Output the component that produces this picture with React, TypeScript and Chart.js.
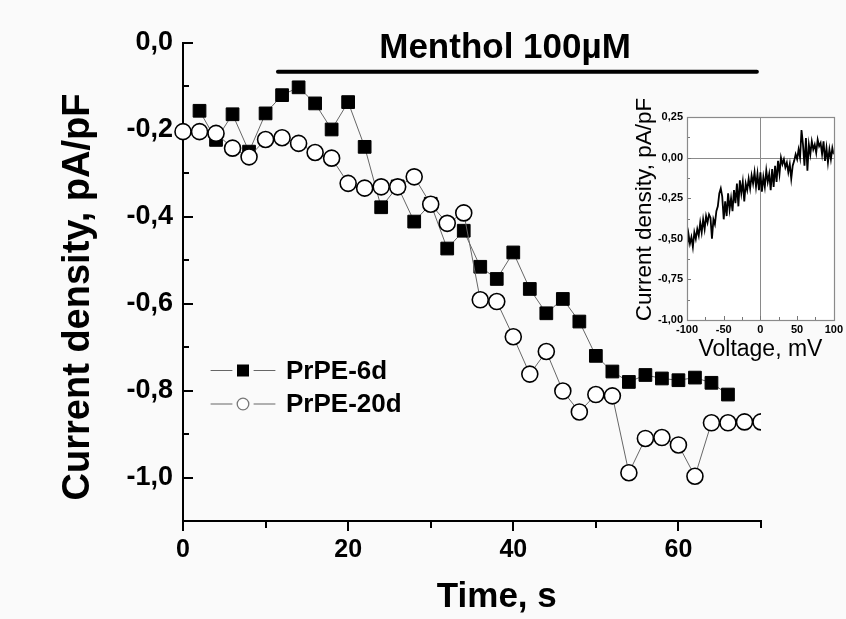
import React, { useEffect, useRef } from 'react';
import { Chart, registerables } from 'chart.js';

Chart.register(...registerables);

// ---------- main chart data ----------
const prpe6dTime = [2, 4, 6, 8, 10, 12, 14, 16, 18, 20, 22, 24, 26, 28, 30, 32, 34, 36, 38, 40, 42, 44, 46, 48, 50, 52, 54, 56, 58, 60, 62, 64, 66];
const prpe6dValues = [-0.156, -0.223, -0.164, -0.25, -0.162, -0.12, -0.102, -0.139, -0.199, -0.136, -0.239, -0.378, -0.33, -0.411, -0.37, -0.473, -0.432, -0.515, -0.543, -0.482, -0.566, -0.622, -0.589, -0.641, -0.72, -0.756, -0.78, -0.764, -0.772, -0.776, -0.77, -0.782, -0.809];

const prpe20dTime = [0, 2, 4, 6, 8, 10, 12, 14, 16, 18, 20, 22, 24, 26, 28, 30, 32, 34, 36, 38, 40, 42, 44, 46, 48, 50, 52, 54, 56, 58, 60, 62, 64, 66, 68, 70];
const prpe20dValues = [-0.204, -0.204, -0.208, -0.242, -0.262, -0.222, -0.218, -0.231, -0.252, -0.265, -0.323, -0.334, -0.331, -0.331, -0.308, -0.371, -0.415, -0.391, -0.591, -0.595, -0.676, -0.762, -0.71, -0.801, -0.849, -0.809, -0.812, -0.989, -0.91, -0.908, -0.925, -0.997, -0.874, -0.874, -0.872, -0.872];

const seriesLabels = ['PrPE-6d', 'PrPE-20d'];
const xTickValues = [0, 20, 40, 60];
const xTickMarks = [0, 10, 20, 30, 40, 50, 60, 70];
const yTickValues = [0, -0.2, -0.4, -0.6, -0.8, -1.0];
const yTickMarks = [0, -0.1, -0.2, -0.3, -0.4, -0.5, -0.6, -0.7, -0.8, -0.9, -1.0];
const xTitle = 'Time, s';
const yTitle = 'Current density, pA/pF';
const mentholText = 'Menthol 100µM';
const mentholStart = 11.5;
const mentholEnd = 69.5;
const mentholLevel = -0.066;

// ---------- inset data ----------
const insetVoltage = [
  -100, -98, -96, -94, -92, -90, -88, -86, -84, -82, -80, -78, -76, -74, -72, -70, -68, -66, -64, -62,
  -60, -58, -56, -54, -52, -50, -48, -46, -44, -42, -40, -38, -36, -34, -32, -30, -28, -26, -24, -22,
  -20, -18, -16, -14, -12, -10, -8, -6, -4, -2, 0, 2, 4, 6, 8, 10, 12, 14, 16, 18,
  20, 22, 24, 26, 28, 30, 32, 34, 36, 38, 40, 42, 44, 46, 48, 50, 52, 54, 56, 58,
  60, 62, 64, 66, 68, 70, 72, 74, 76, 78, 80, 82, 84, 86, 88, 90, 92, 94, 96, 98, 100,
];
const insetCurrent = [
  -0.56, -0.47, -0.53, -0.49, -0.55, -0.46, -0.5, -0.44, -0.48, -0.4, -0.46, -0.38, -0.44, -0.36, -0.4, -0.35, -0.37, -0.5, -0.38, -0.41,
  -0.33, -0.3, -0.22, -0.19, -0.24, -0.38, -0.27, -0.36, -0.22, -0.32, -0.25, -0.33, -0.2, -0.28, -0.16, -0.3, -0.14, -0.22, -0.15, -0.27,
  -0.16, -0.2, -0.13, -0.19, -0.11, -0.16, -0.09, -0.18, -0.1, -0.2, -0.09, -0.21, -0.12, -0.18, -0.08, -0.15, -0.1, -0.2, -0.07, -0.18,
  -0.05, -0.15, -0.02, -0.1, 0.0, -0.04, -0.01, -0.06, -0.03, -0.09, -0.04, -0.13, -0.05, -0.02, 0.02, -0.01, 0.05, 0.0, 0.17, 0.08,
  -0.05, 0.12, -0.08, 0.08, 0.02, 0.1, 0.05, 0.08, 0.03, 0.11, 0.07, 0.09, 0.02, 0.1, -0.02, 0.06, -0.03, 0.05, -0.01, 0.06, 0.02,
];
const insetXTicks = [-100, -50, 0, 50, 100];
const insetYTicks = [0.25, 0, -0.25, -0.5, -0.75, -1.0];
const insetXTickMarks = [-100, -75, -50, -25, 0, 25, 50, 75, 100];
const insetYTickMarks = [0.25, 0.125, 0, -0.125, -0.25, -0.375, -0.5, -0.625, -0.75, -0.875, -1.0];
const insetXTitle = 'Voltage, mV';
const insetYTitle = 'Current density, pA/pF';

const FONT = '"Liberation Sans", Arial, Helvetica, sans-serif';

const mainPlugin = {
  id: 'mainDecor',
  beforeDatasetsDraw(chart: any) {
    const { ctx, chartArea, scales } = chart;
    const x = scales.x;
    const y = scales.y;
    ctx.save();
    ctx.strokeStyle = '#000';
    ctx.lineWidth = 2;
    for (const v of yTickMarks) {
      const py = Math.round(y.getPixelForValue(v));
      const len = yTickValues.some((t) => Math.abs(t - v) < 1e-9) ? 10 : 6;
      ctx.beginPath();
      ctx.moveTo(chartArea.left, py);
      ctx.lineTo(chartArea.left + len, py);
      ctx.stroke();
    }
    for (const v of xTickMarks) {
      const px = Math.round(x.getPixelForValue(v));
      const len = xTickValues.includes(v) ? 10 : 7;
      ctx.beginPath();
      ctx.moveTo(px, chartArea.bottom);
      ctx.lineTo(px, chartArea.bottom + len);
      ctx.stroke();
    }
    ctx.restore();
  },
  afterDraw(chart: any) {
    const { ctx, chartArea, scales } = chart;
    const x = scales.x;
    const y = scales.y;
    ctx.save();
    // menthol bar
    ctx.strokeStyle = '#000';
    ctx.lineWidth = 4;
    ctx.lineCap = 'round';
    const my = y.getPixelForValue(mentholLevel);
    ctx.beginPath();
    ctx.moveTo(x.getPixelForValue(mentholStart), my);
    ctx.lineTo(x.getPixelForValue(mentholEnd), my);
    ctx.stroke();
    ctx.fillStyle = '#000';
    ctx.font = `bold 35px ${FONT}`;
    ctx.textAlign = 'center';
    ctx.textBaseline = 'alphabetic';
    ctx.fillText(mentholText, x.getPixelForValue(39), my - 14);

    // axis titles
    ctx.font = `bold 35px ${FONT}`;
    ctx.textBaseline = 'middle';
    ctx.fillText(xTitle, x.getPixelForValue(38), chartArea.bottom + 76);
    ctx.save();
    ctx.translate(chartArea.left - 104, (chartArea.top + chartArea.bottom) / 2 + 15);
    ctx.rotate(-Math.PI / 2);
    ctx.font = `bold 38px ${FONT}`;
    ctx.fillText(yTitle, 0, 0);
    ctx.restore();

    // legend
    const ds = chart.data.datasets;
    const rows = [370.5, 404];
    const lx = chartArea.left + 28;
    rows.forEach((ry, i) => {
      ctx.strokeStyle = '#666';
      ctx.lineWidth = 1;
      ctx.beginPath();
      ctx.moveTo(lx, ry);
      ctx.lineTo(lx + 21, ry);
      ctx.moveTo(lx + 43, ry);
      ctx.lineTo(lx + 64, ry);
      ctx.stroke();
      const cx = lx + 32;
      if (ds[i].pointStyle === 'rect') {
        ctx.fillStyle = '#000';
        ctx.fillRect(cx - 6, ry - 6, 12, 12);
      } else {
        ctx.fillStyle = '#fff';
        ctx.strokeStyle = '#777';
        ctx.lineWidth = 1.3;
        ctx.beginPath();
        ctx.arc(cx, ry, 5.8, 0, Math.PI * 2);
        ctx.fill();
        ctx.stroke();
      }
      ctx.fillStyle = '#000';
      ctx.font = `bold 26px ${FONT}`;
      ctx.textAlign = 'left';
      ctx.textBaseline = 'middle';
      ctx.fillText(ds[i].label, lx + 75, ry + 1);
    });
    ctx.restore();
  },
};

const insetPlugin = {
  id: 'insetDecor',
  beforeDatasetsDraw(chart: any) {
    const { ctx, chartArea, scales } = chart;
    const x = scales.x;
    const y = scales.y;
    ctx.save();
    ctx.fillStyle = '#ffffff';
    ctx.fillRect(chartArea.left, chartArea.top, chartArea.right - chartArea.left, chartArea.bottom - chartArea.top);
    ctx.strokeStyle = '#8a8a8a';
    ctx.lineWidth = 1;
    // zero lines
    const zx = Math.round(x.getPixelForValue(0)) + 0.5;
    const zy = Math.round(y.getPixelForValue(0)) + 0.5;
    ctx.beginPath();
    ctx.moveTo(zx, chartArea.top);
    ctx.lineTo(zx, chartArea.bottom);
    ctx.moveTo(chartArea.left, zy);
    ctx.lineTo(chartArea.right, zy);
    ctx.stroke();
    // ticks inward
    ctx.strokeStyle = '#777';
    for (const v of insetYTickMarks) {
      const py = Math.round(y.getPixelForValue(v)) + 0.5;
      const len = insetYTicks.some((t) => Math.abs(t - v) < 1e-9) ? 4 : 3;
      ctx.beginPath();
      ctx.moveTo(chartArea.left, py);
      ctx.lineTo(chartArea.left + len, py);
      ctx.stroke();
    }
    for (const v of insetXTickMarks) {
      const px = Math.round(x.getPixelForValue(v)) + 0.5;
      const len = insetXTicks.includes(v) ? 4 : 3;
      ctx.beginPath();
      ctx.moveTo(px, chartArea.bottom);
      ctx.lineTo(px, chartArea.bottom - len);
      ctx.stroke();
    }
    ctx.restore();
  },
  afterDraw(chart: any) {
    const { ctx, chartArea } = chart;
    ctx.save();
    ctx.strokeStyle = '#8a8a8a';
    ctx.lineWidth = 1.2;
    ctx.strokeRect(Math.round(chartArea.left) + 0.5, Math.round(chartArea.top) + 0.5, Math.round(chartArea.right - chartArea.left), Math.round(chartArea.bottom - chartArea.top));
    ctx.fillStyle = '#000';
    ctx.textAlign = 'center';
    ctx.textBaseline = 'middle';
    ctx.font = `23px ${FONT}`;
    ctx.fillText(insetXTitle, (chartArea.left + chartArea.right) / 2, chartArea.bottom + 30);
    ctx.save();
    ctx.translate(chartArea.left - 42, (chartArea.top + chartArea.bottom) / 2 - 9);
    ctx.rotate(-Math.PI / 2);
    ctx.font = `22.5px ${FONT}`;
    ctx.fillText(insetYTitle, 0, 0);
    ctx.restore();
    ctx.restore();
  },
};

export default function App() {
  const mainRef = useRef<HTMLCanvasElement | null>(null);
  const insetRef = useRef<HTMLCanvasElement | null>(null);

  useEffect(() => {
    if (!mainRef.current || !insetRef.current) return;
    const clipRight = { left: false, top: false, bottom: false, right: 0 } as any;
    const main = new Chart(mainRef.current, {
      type: 'line',
      data: {
        datasets: [
          {
            label: seriesLabels[0],
            data: prpe6dTime.map((t, i) => ({ x: t, y: prpe6dValues[i] })),
            borderColor: '#666',
            borderWidth: 1,
            pointStyle: 'rect',
            pointRadius: 9,
            pointBackgroundColor: '#000',
            pointBorderColor: '#000',
            pointBorderWidth: 1,
            order: 2,
            clip: clipRight,
          },
          {
            label: seriesLabels[1],
            data: prpe20dTime.map((t, i) => ({ x: t, y: prpe20dValues[i] })),
            borderColor: '#666',
            borderWidth: 1,
            pointStyle: 'circle',
            pointRadius: 8,
            pointBackgroundColor: '#fff',
            pointBorderColor: '#000',
            pointBorderWidth: 1.6,
            order: 1,
            clip: clipRight,
          },
        ],
      } as any,
      options: {
        responsive: false,
        animation: false,
        devicePixelRatio: 1,
        layout: { padding: { left: 0, top: 43, right: 85, bottom: 0 } },
        plugins: { legend: { display: false }, tooltip: { enabled: false } },
        events: [],
        scales: {
          x: {
            type: 'linear',
            min: 0,
            max: 70,
            afterBuildTicks: (s: any) => {
              s.ticks = xTickValues.map((v) => ({ value: v }));
            },
            afterFit: (s: any) => {
              s.height = 98;
            },
            grid: { display: false, drawTicks: false },
            border: { display: true, color: '#000', width: 2 },
            ticks: {
              color: '#000',
              font: { family: FONT, size: 25, weight: 'bold' },
              padding: 14,
              maxRotation: 0,
              autoSkip: false,
              callback: (v: any) => String(v),
            },
          },
          y: {
            type: 'linear',
            min: -1.1,
            max: 0,
            afterBuildTicks: (s: any) => {
              s.ticks = yTickValues.map((v) => ({ value: v }));
            },
            afterFit: (s: any) => {
              s.width = 183;
            },
            grid: { display: false, drawTicks: false },
            border: { display: true, color: '#000', width: 2 },
            ticks: {
              color: '#000',
              font: { family: FONT, size: 27, weight: 'bold' },
              padding: 10,
              autoSkip: false,
              callback: (v: any) => Number(v).toFixed(1).replace('.', ','),
            },
          },
        },
      } as any,
      plugins: [mainPlugin],
    });

    const inset = new Chart(insetRef.current, {
      type: 'line',
      data: {
        datasets: [
          {
            data: insetVoltage.map((v, i) => ({ x: v, y: insetCurrent[i] })),
            borderColor: '#000',
            borderWidth: 1.8,
            pointRadius: 0,
            tension: 0,
          },
        ],
      } as any,
      options: {
        responsive: false,
        animation: false,
        devicePixelRatio: 1,
        layout: { padding: { left: 0, top: 32, right: 8, bottom: 0 } },
        plugins: { legend: { display: false }, tooltip: { enabled: false } },
        events: [],
        scales: {
          x: {
            type: 'linear',
            min: -100,
            max: 100,
            afterBuildTicks: (s: any) => {
              s.ticks = insetXTicks.map((v) => ({ value: v }));
            },
            afterFit: (s: any) => {
              s.height = 45;
            },
            grid: { display: false, drawTicks: false },
            border: { display: false },
            ticks: {
              color: '#000',
              font: { family: FONT, size: 11, weight: 'bold' },
              padding: 3,
              maxRotation: 0,
              autoSkip: false,
              callback: (v: any) => String(v),
            },
          },
          y: {
            type: 'linear',
            min: -1.0,
            max: 0.25,
            afterBuildTicks: (s: any) => {
              s.ticks = insetYTicks.map((v) => ({ value: v }));
            },
            afterFit: (s: any) => {
              s.width = 87;
            },
            grid: { display: false, drawTicks: false },
            border: { display: false },
            ticks: {
              color: '#000',
              font: { family: FONT, size: 11, weight: 'bold' },
              padding: 4,
              autoSkip: false,
              callback: (v: any) => Number(v).toFixed(2).replace('.', ','),
            },
          },
        },
      } as any,
      plugins: [insetPlugin],
    });

    return () => {
      main.destroy();
      inset.destroy();
    };
  }, []);

  return (
    <div style={{ position: 'absolute', left: 0, top: 0, width: 846, height: 619, background: '#fafafa', overflow: 'hidden' }}>
      <canvas ref={mainRef} width={846} height={619} style={{ position: 'absolute', left: 0, top: 0, width: 846, height: 619 }} />
      <canvas ref={insetRef} width={246} height={280} style={{ position: 'absolute', left: 600, top: 85, width: 246, height: 280 }} />
    </div>
  );
}
